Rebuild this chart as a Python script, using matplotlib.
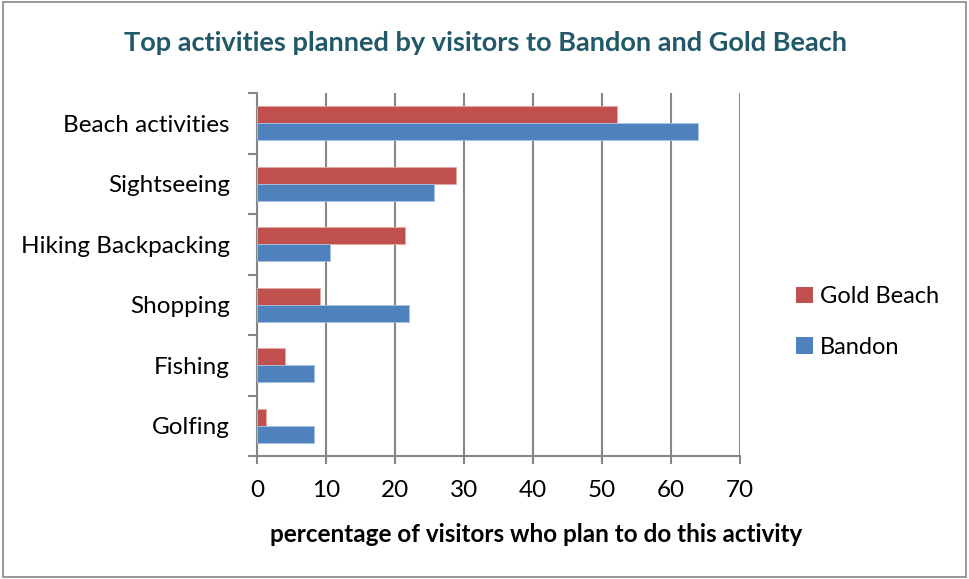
import numpy as np
import matplotlib
matplotlib.use("Agg")
import matplotlib.pyplot as plt
from matplotlib.patches import Rectangle, Patch

plt.rcParams['font.family'] = ['Lato', 'DejaVu Sans']

activities = ["Beach activities", "Sightseeing", "Hiking Backpacking",
              "Shopping", "Fishing", "Golfing"]
gold_beach = [52.2, 28.8, 21.4, 9.1, 4.0, 1.3]
bandon = [63.9, 25.7, 10.6, 22.0, 8.3, 8.3]
x_ticks = [0, 10, 20, 30, 40, 50, 60, 70]

red = "#C0504D"
blue = "#4F81BD"
grey = "#868686"

fig = plt.figure(figsize=(9.69, 5.79), dpi=100)
ax = fig.add_axes([257 / 969, 1 - 456 / 579, 483 / 969, 363 / 579])

y = np.arange(len(activities))
h = 0.285
ax.barh(y - h / 2, gold_beach, height=h, color=red, edgecolor="#E6A9A8",
        linewidth=0.6, zorder=3)
ax.barh(y + h / 2, bandon, height=h, color=blue, edgecolor="#A9C1E0",
        linewidth=0.6, zorder=3)

ax.set_xlim(0, 70)
ax.set_ylim(len(activities) - 0.5, -0.5)
ax.set_xticks(x_ticks)
ax.set_xticklabels([str(t) for t in x_ticks], fontsize=17.5)
ax.tick_params(axis='x', direction='out', length=6, color=grey, width=1.5, pad=11)

# category boundaries as tick marks, names as unticked minor labels
ax.set_yticks(np.arange(len(activities) + 1) - 0.5)
ax.set_yticklabels([])
ax.set_yticks(y, minor=True)
ax.set_yticklabels(activities, minor=True, fontsize=17.5)
ax.tick_params(axis='y', which='major', direction='out', length=6.5, color=grey, width=1.5)
ax.tick_params(axis='y', which='minor', length=0, pad=19.5)

ax.grid(axis='x', color=grey, linewidth=1.5, zorder=0)
for side in ("top", "right"):
    ax.spines[side].set_visible(False)
for side in ("left", "bottom"):
    ax.spines[side].set_color(grey)
    ax.spines[side].set_linewidth(1.5)

ax.set_xlabel("percentage of visitors who plan to do this activity",
              fontsize=17.5, fontweight='bold')
ax.xaxis.set_label_coords((536 - 257) / 483, -(535 - 456) / 363)
ax.xaxis.label.set_va('center')

fig.text(486 / 969, 1 - 43 / 579, "Top activities planned by visitors to Bandon and Gold Beach",
         ha='center', va='center', fontsize=19.5, fontweight='bold', color="#215968")

handles = [Patch(facecolor=red), Patch(facecolor=blue)]
fig.legend(handles, ["Gold Beach", "Bandon"], loc='center left',
           bbox_to_anchor=(775 / 969, 1 - 322 / 579), frameon=False, fontsize=17,
           handlelength=0.7, handleheight=0.7, handletextpad=0.3, labelspacing=1.25)

fig.patches.append(Rectangle((0.003, 0.003), 0.994, 0.994, transform=fig.transFigure,
                             fill=False, edgecolor=grey, linewidth=1.2))

fig.savefig("out.png", dpi=100)
